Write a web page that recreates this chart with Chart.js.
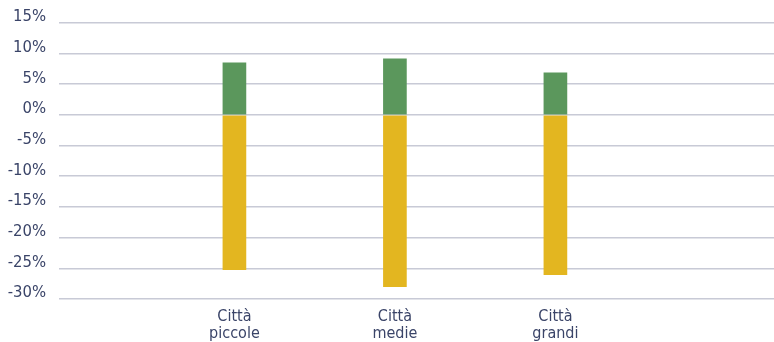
<!DOCTYPE html>
<html>
<head>
<meta charset="utf-8">
<script src="https://cdn.jsdelivr.net/npm/chart.js@4/dist/chart.umd.min.js"></script>
<style>
  html, body { margin: 0; padding: 0; background: #ffffff; }
  #wrap { width: 774px; height: 342px; position: relative; }
</style>
</head>
<body>
<div id="wrap"><canvas id="c" width="774" height="342"></canvas></div>
<script>
const categories = [["Città", "piccole"], ["Città", "medie"], ["Città", "grandi"]];
const positiveValues = [8.5, 9.15, 6.85];
const negativeValues = [-25.2, -28.0, -26.05];
const yTicks = [15, 10, 5, 0, -5, -10, -15, -20, -25, -30];

const FONT = '"Liberation Sans Narrow", "DejaVu Sans Condensed", "Liberation Sans", sans-serif';
const TEXT = '#3a4468';
const GRID = '#c8cad6';

const positions = categories.map((_, i) => i + 1);

new Chart(document.getElementById('c'), {
  type: 'bar',
  data: {
    datasets: [
      {
        label: 'positivo',
        data: positions.map((x, i) => ({ x: x, y: positiveValues[i] })),
        backgroundColor: '#5b975c',
        barThickness: 23,
        stack: 's'
      },
      {
        label: 'negativo',
        data: positions.map((x, i) => ({ x: x, y: negativeValues[i] })),
        backgroundColor: '#e3b620',
        barThickness: 23,
        stack: 's'
      }
    ]
  },
  options: {
    responsive: false,
    animation: false,
    devicePixelRatio: 1,
    layout: { padding: { top: 22, right: 0, left: 0, bottom: 0 } },
    plugins: { legend: { display: false }, tooltip: { enabled: false } },
    scales: {
      x: {
        type: 'linear',
        stacked: true,
        offset: false,
        min: -0.093,
        max: 4.362,
        grid: { display: false, offset: false },
        border: { display: false },
        afterBuildTicks: (axis) => { axis.ticks = positions.map(v => ({ value: v })); },
        afterFit: (axis) => { axis.height = 43; },
        ticks: {
          autoSkip: false,
          maxRotation: 0,
          padding: 1,
          color: TEXT,
          font: { family: FONT, size: 16, lineHeight: 1.08 },
          callback: (v) => categories[Math.round(v) - 1] || ''
        }
      },
      y: {
        stacked: true,
        min: Math.min(...yTicks),
        max: Math.max(...yTicks),
        afterBuildTicks: (axis) => { axis.ticks = yTicks.map(v => ({ value: v })); },
        afterFit: (axis) => { axis.width = 59; },
        grid: { color: GRID, lineWidth: 1.6, drawTicks: false },
        border: { display: false },
        ticks: {
          padding: 13,
          labelOffset: -6,
          color: TEXT,
          font: { family: FONT, size: 16.5 },
          callback: (v) => v + '%'
        }
      }
    }
  }
});
</script>
</body>
</html>
